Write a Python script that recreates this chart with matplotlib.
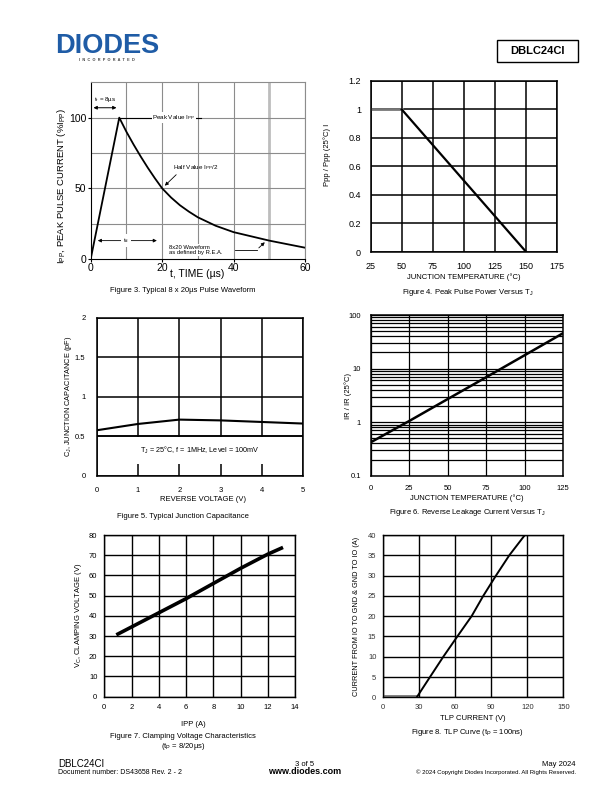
import matplotlib
matplotlib.use("Agg")
from matplotlib import pyplot as plt
from matplotlib.patches import Rectangle

plt.rcParams["font.family"] = ["Liberation Sans", "DejaVu Sans"]
plt.rcParams["mathtext.fontset"] = "custom"
plt.rcParams["mathtext.rm"] = "Liberation Sans"
plt.rcParams["mathtext.it"] = "Liberation Sans"

W, H = 612, 792

# Figure 3: 8x20us pulse waveform
pulse_t = [0, 8, 10, 12, 14, 16, 18, 20, 22.5, 25, 27.5, 30, 35, 40, 45, 50, 55, 60]
pulse_i = [0, 100, 90, 81, 72.5, 64.5, 57, 50, 43.5, 38, 33.5, 29.5, 23.5, 19, 16, 13, 10.5, 8]

# Figure 4: peak pulse power derating
derate_t = [25, 50, 150]
derate_p = [1, 1, 0]

# Figure 5: junction capacitance
cap_v = [0, 1, 2, 3, 4, 5]
cap_c = [0.575, 0.655, 0.71, 0.70, 0.68, 0.66]

# Figure 6: reverse leakage vs temperature
leak_t = [0, 25, 50, 75, 100, 125]
leak_r = [0.42, 1.05, 2.7, 6.9, 17.8, 46]

# Figure 7: clamping voltage
clamp_i = [1, 2, 4, 6, 8, 10, 12, 13]
clamp_v = [31, 34.5, 41.5, 48.5, 56, 63.5, 70.5, 73.5]

# Figure 8: TLP curve
tlp_v = [0, 28.3, 38.9, 50, 61.7, 73.6, 83.3, 93.9, 105, 118]
tlp_i = [0.2, 0.2, 5, 10, 15, 20, 25, 30, 35, 40]


def fx(x):
    return x / W


def fy(y):
    return 1 - y / H


def make_axes(fig, left, top, right, bottom):
    return fig.add_axes([fx(left), fy(bottom), (right - left) / W, (bottom - top) / H])


def ptext(fig, x, y, s, **kw):
    kw.setdefault("ha", "center")
    kw.setdefault("va", "center")
    kw.setdefault("fontsize", 5.5)
    fig.text(fx(x), fy(y), s, **kw)


def black_grid(ax, lw=1.0):
    ax.grid(True, color="black", linewidth=lw)
    ax.set_axisbelow(True)
    for s in ax.spines.values():
        s.set_linewidth(lw)
    ax.tick_params(length=0, pad=4)


fig = plt.figure(figsize=(W / 100, H / 100), dpi=100)

# ---- header
ptext(fig, 107, 46, "DIODES", fontsize=19.5, fontweight="bold", color="#1f5ca6")
ptext(fig, 107, 60, "I  N  C  O  R  P  O  R  A  T  E  D", fontsize=2.8, fontweight="bold", color="#444444")
fig.patches.append(Rectangle((fx(497), fy(62)), 81 / W, 22 / H, transform=fig.transFigure,
                             fill=False, edgecolor="black", linewidth=1.0))
ptext(fig, 537.5, 51, "DBLC24CI", fontsize=8, fontweight="bold")

# ---- Figure 3
ax = make_axes(fig, 90.7, 82.3, 305, 259)
ax.plot(pulse_t, pulse_i, color="black", linewidth=1.3)
ax.set_xlim(0, 60)
ax.set_ylim(0, 125)
ax.set_xticks([0, 20, 40, 60])
ax.set_yticks([0, 50, 100])
for v in [10, 20, 30, 40, 60]:
    ax.axvline(v, color="#8c8c8c", linewidth=0.8, zorder=0)
ax.axvline(50, color="#bdbdbd", linewidth=2.0, zorder=0)
for v in [25, 50, 75, 100]:
    ax.axhline(v, color="#8c8c8c", linewidth=0.8, zorder=0)
for s in ["top", "right"]:
    ax.spines[s].set_color("#8c8c8c")
    ax.spines[s].set_linewidth(0.8)
ax.tick_params(labelsize=7.5, length=2, pad=1)
ax.annotate("", xy=(0, 107), xytext=(8, 107),
            arrowprops=dict(arrowstyle="<|-|>", color="black", lw=0.7, mutation_scale=5))
ax.text(1, 113, "t$_r$ = 8µs", fontsize=4.5, va="center")
ax.plot([8, 31], [100, 100], color="black", linewidth=0.8)
ax.text(17.3, 100, "Peak Value I$_{PP}$", fontsize=4.5, va="center",
        bbox=dict(facecolor="white", edgecolor="none", pad=0.6))
ax.text(23, 65, "Half Value I$_{PP}$/2", fontsize=4.5, va="center")
ax.annotate("", xy=(20.2, 50.5), xytext=(24.5, 61),
            arrowprops=dict(arrowstyle="-|>", color="black", lw=0.6, mutation_scale=5))
ax.annotate("", xy=(1.2, 13), xytext=(19.3, 13),
            arrowprops=dict(arrowstyle="<|-|>", color="black", lw=0.6, mutation_scale=5))
ax.text(9.8, 13, "t$_d$", fontsize=4.5, ha="center", va="center",
        bbox=dict(facecolor="white", edgecolor="none", pad=1.5))
ax.text(21.8, 6.5, "8x20 Waveform\nas defined by R.E.A.", fontsize=4.2, va="center",
        linespacing=1.1, bbox=dict(facecolor="white", edgecolor="none", pad=0.5))
ax.plot([40.5, 46.5], [6.5, 6.5], color="black", linewidth=0.6)
ax.annotate("", xy=(49.3, 13.2), xytext=(46.5, 6.5),
            arrowprops=dict(arrowstyle="-|>", color="black", lw=0.6, mutation_scale=5))
ptext(fig, 197, 274, "t, TIME (µs)", fontsize=7.5)
ptext(fig, 62, 186, "I$_{PP}$, PEAK PULSE CURRENT (%I$_{PP}$)", fontsize=6.8, rotation=90)
ptext(fig, 183, 290, "Figure 3. Typical 8 x 20µs Pulse Waveform")

# ---- Figure 4
ax = make_axes(fig, 370.7, 81, 557.3, 252)
ax.plot(derate_t[:2], derate_p[:2], color="#777777", linewidth=2.0)
ax.plot(derate_t[1:], derate_p[1:], color="black", linewidth=1.6)
ax.set_xlim(25, 175)
ax.set_ylim(0, 1.2)
ax.set_xticks([25, 50, 75, 100, 125, 150, 175])
ax.set_xticklabels(["25", "50", "75", "100", "125", "150", "175"])
ax.set_yticks([0, 0.2, 0.4, 0.6, 0.8, 1, 1.2])
ax.set_yticklabels(["0", "0.2", "0.4", "0.6", "0.8", "1", "1.2"])
black_grid(ax, 1.1)
ax.tick_params(labelsize=6.5, pad=7)
ptext(fig, 464, 277, "JUNCTION TEMPERATURE (°C)", fontsize=5.5)
ptext(fig, 327, 155, "Ppp / Ppp (25°C) I", fontsize=5.5, rotation=90)
ptext(fig, 468, 292, "Figure 4. Peak Pulse Power Versus T$_J$")

# ---- Figure 5
ax = make_axes(fig, 96.7, 317.7, 303.3, 475.7)
ax.plot(cap_v, cap_c, color="black", linewidth=1.5)
ax.set_xlim(0, 5)
ax.set_ylim(0, 2)
ax.set_yticks([0, 0.5, 1, 1.5, 2])
ax.set_yticklabels(["0", "0.5", "1", "1.5", "2"])
black_grid(ax, 1.1)
ax.tick_params(labelsize=5.5, pad=8)
ax.text(2.5, 0.32, "T$_J$ = 25°C, f = 1MHz, Level = 100mV", fontsize=5.2, ha="center", va="center",
        bbox=dict(facecolor="white", edgecolor="none", pad=6))
ax.axhline(0.5, color="black", linewidth=1.1, zorder=5)
ptext(fig, 203, 500, "REVERSE VOLTAGE (V)", fontsize=5.5)
ptext(fig, 69, 396, "C$_J$, JUNCTION CAPACITANCE (pF)", fontsize=5.3, rotation=90)
ptext(fig, 183, 516, "Figure 5. Typical Junction Capacitance")

# ---- Figure 6
ax = make_axes(fig, 370.7, 315, 563.3, 475.7)
ax.plot(leak_t, leak_r, color="black", linewidth=1.8)
ax.set_yscale("log")
ax.set_xlim(0, 125)
ax.set_ylim(0.1, 100)
ax.set_xticks([0, 25, 50, 75, 100, 125])
ax.set_yticks([0.1, 1, 10, 100])
ax.set_yticklabels(["0.1", "1", "10", "100"])
ax.grid(True, which="both", color="black", linewidth=0.9)
ax.set_axisbelow(True)
for s in ax.spines.values():
    s.set_linewidth(1.1)
ax.tick_params(which="both", length=0, labelsize=5.5, pad=7)
ptext(fig, 467, 498, "JUNCTION TEMPERATURE (°C)", fontsize=5.5)
ptext(fig, 348, 396, "IR / IR (25°C)", fontsize=5.5, rotation=90)
ptext(fig, 467, 513, "Figure 6. Reverse Leakage Current Versus T$_J$")

# ---- Figure 7
ax = make_axes(fig, 104.3, 535, 295, 696.7)
ax.plot(clamp_i, clamp_v, color="black", linewidth=2.6)
ax.set_xlim(0, 14)
ax.set_ylim(0, 80)
ax.set_xticks(range(0, 15, 2))
ax.set_yticks(range(0, 81, 10))
black_grid(ax, 1.0)
ax.tick_params(labelsize=5.5, pad=5)
for lab in ax.get_xticklabels() + ax.get_yticklabels():
    lab.set_family(["Liberation Sans Narrow", "Liberation Sans"])
ptext(fig, 193, 724, "IPP (A)", fontsize=5.5)
ptext(fig, 78, 615, "V$_C$, CLAMPING VOLTAGE (V)", fontsize=5.5, rotation=90)
ptext(fig, 183, 737, "Figure 7. Clamping Voltage Characteristics")
ptext(fig, 183, 746, "(t$_P$ = 8/20µs)")

# ---- Figure 8
ax = make_axes(fig, 383.3, 535, 563.3, 697.3)
ax.plot(tlp_v[:2], tlp_i[:2], color="#777777", linewidth=1.3)
ax.plot(tlp_v[1:], tlp_i[1:], color="black", linewidth=1.4)
ax.set_xlim(0, 150)
ax.set_ylim(0, 40)
ax.set_xticks(range(0, 151, 30))
ax.set_yticks(range(0, 41, 5))
black_grid(ax, 1.0)
ax.tick_params(labelsize=5.5, pad=5)
for lab in ax.get_xticklabels() + ax.get_yticklabels():
    lab.set_color("#333333")
ptext(fig, 473, 718, "TLP CURRENT (V)", fontsize=5.5)
ptext(fig, 356, 616, "CURRENT FROM IO TO GND & GND TO IO (A)", fontsize=5.3, rotation=90)
ptext(fig, 467, 733, "Figure 8. TLP Curve (t$_P$ = 100ns)")

# ---- footer
ptext(fig, 58, 764, "DBLC24CI", fontsize=7, ha="left")
ptext(fig, 58, 773, "Document number: DS43658 Rev. 2 - 2", fontsize=5, ha="left")
ptext(fig, 305, 764, "3 of 5", fontsize=5.5)
ptext(fig, 305, 772, "www.diodes.com", fontsize=6.5, fontweight="bold")
ptext(fig, 576, 764, "May 2024", fontsize=5.5, ha="right")
ptext(fig, 576, 772, "© 2024 Copyright Diodes Incorporated. All Rights Reserved.", fontsize=4.3, ha="right")

fig.savefig("out.png", dpi=100)
